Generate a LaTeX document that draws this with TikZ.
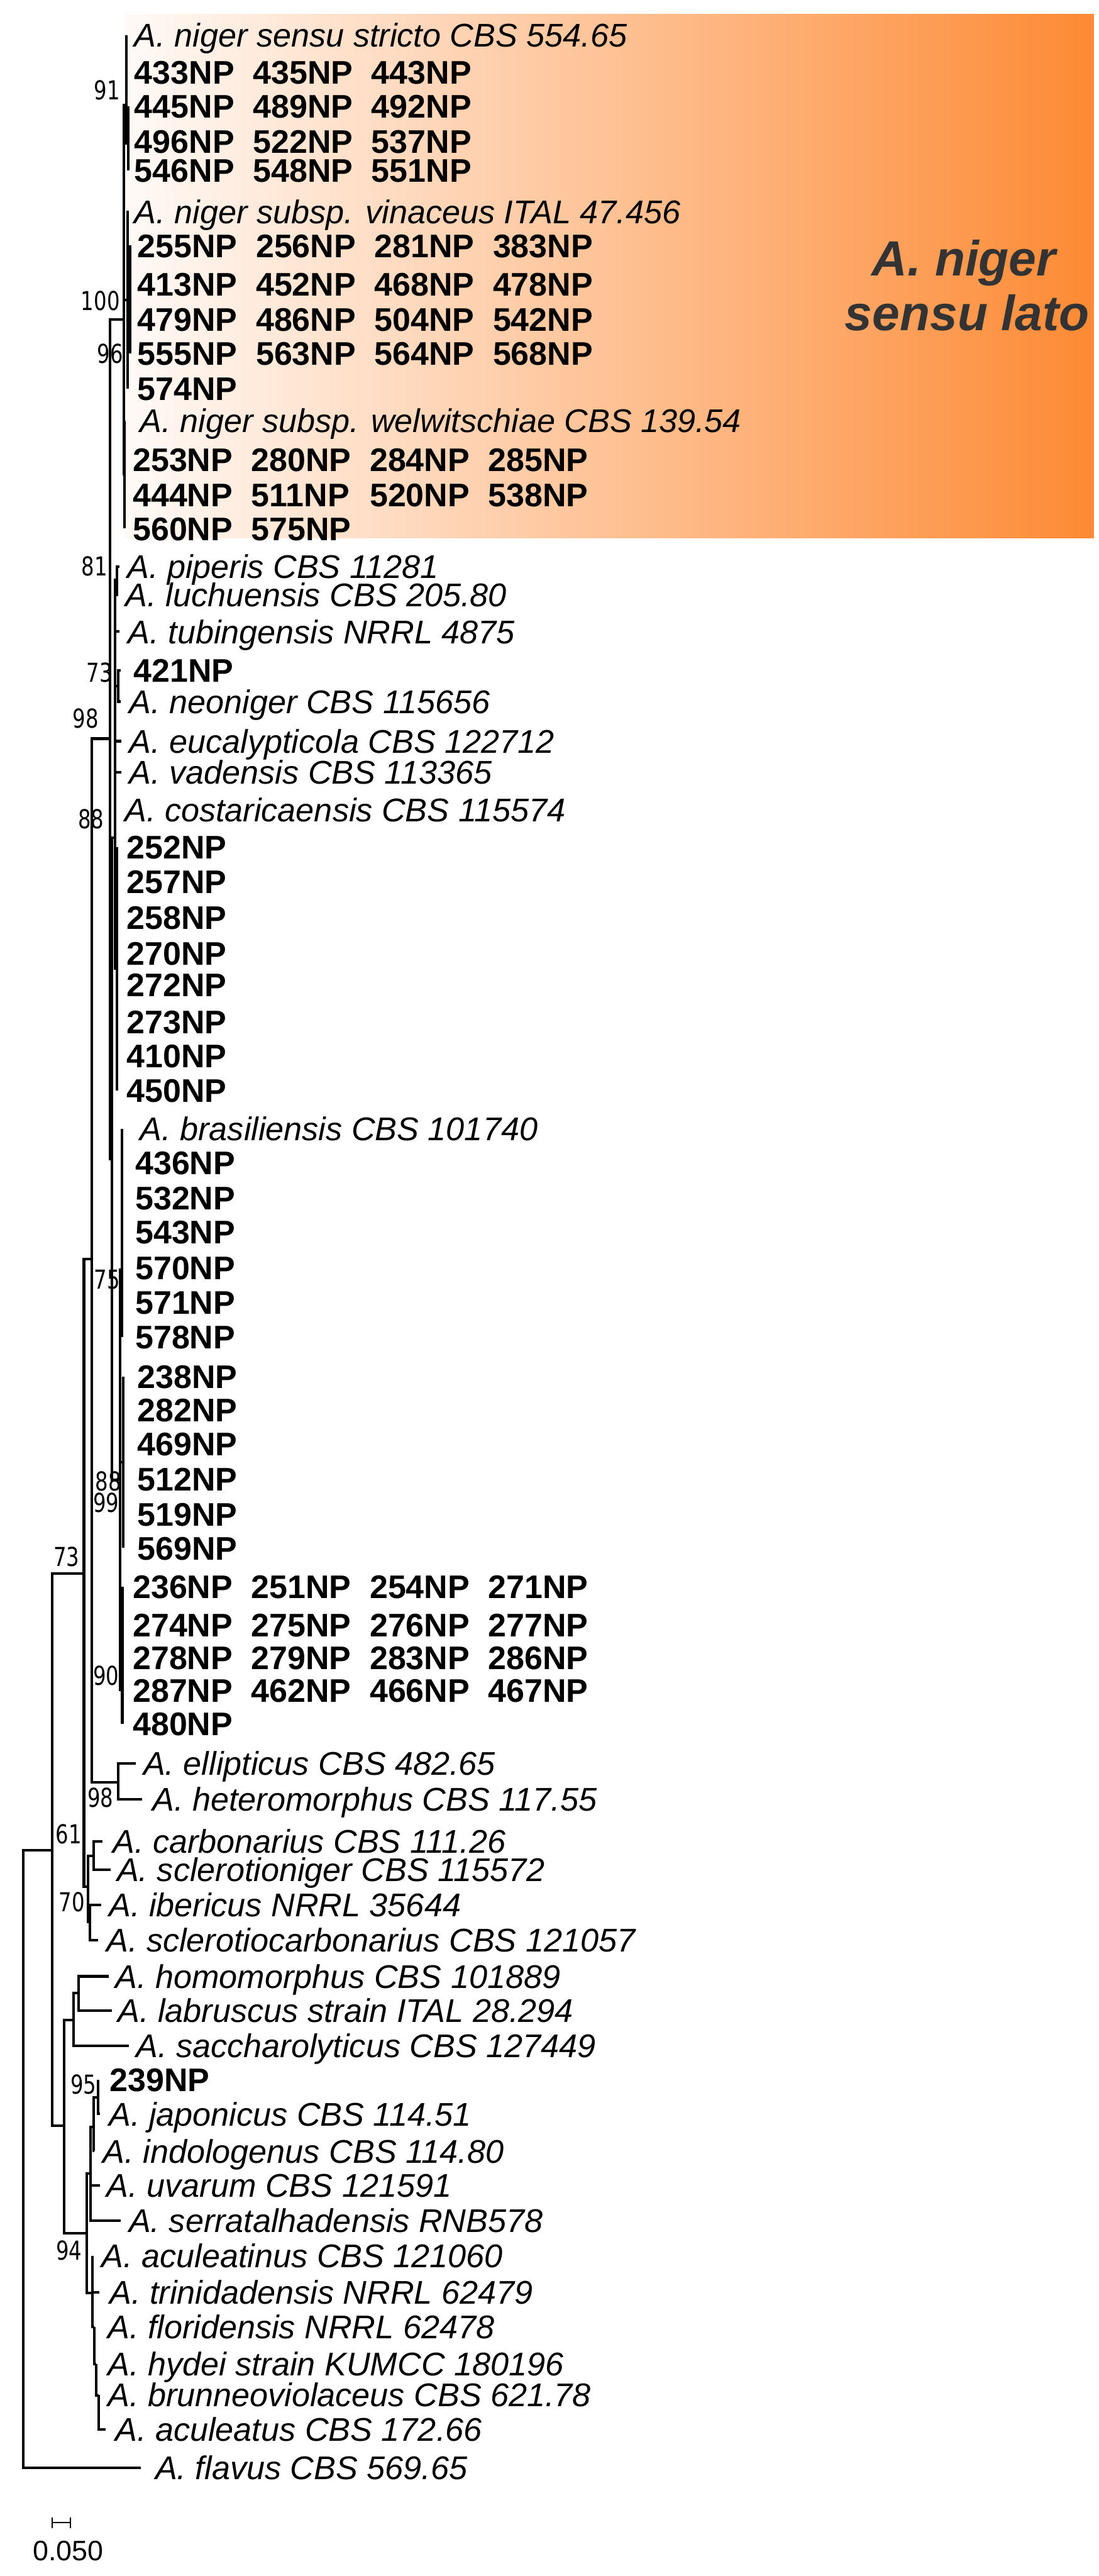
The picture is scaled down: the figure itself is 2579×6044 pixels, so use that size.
\documentclass[tikz,border=0pt]{standalone}
\usepackage{fontspec}
\setmainfont{Liberation Sans}
\newfontfamily\bootfont[FakeStretch=0.78]{DejaVu Sans}
\usetikzlibrary{positioning}
\definecolor{cladedark}{RGB}{253,138,52}
\definecolor{cladelight}{RGB}{255,250,247}
\definecolor{cladetext}{RGB}{51,51,51}
\newcommand\isocol[1]{\makebox[2.78cm][l]{#1}}

\begin{document}
\begin{tikzpicture}[x=0.01cm, y=-0.01cm,
  branch/.style={line width=0.06cm},
  taxon/.style={anchor=base west, inner sep=0pt, yshift=-0.275cm,
    font=\fontsize{21.9}{26}\selectfont\itshape},
  isolate/.style={anchor=base west, inner sep=0pt, yshift=-0.275cm,
    font=\fontsize{21.8}{26}\selectfont\bfseries},
  boot/.style={anchor=base east, inner sep=0pt, yshift=-0.225cm,
    font=\fontsize{17.4}{20}\selectfont\bootfont},
  lato/.style={anchor=base, inner sep=0pt, text=cladetext,
    font=\fontsize{33}{38}\selectfont\bfseries\itshape}]
  \useasboundingbox (0,0) rectangle (2579,6044);

  % A. niger sensu lato highlight
  \shade[left color=cladelight, right color=cladedark] (292,33) rectangle (2567,1262);
  \node[lato] (latoA) at (2262,647) {A. niger};
  \node[lato] (latoB) at (2270,775) {sensu lato};

  % Internal nodes
  \coordinate (r0) at (55,5066);
  \coordinate (n123) at (123,4341);
  \coordinate (n197) at (197,3692);
  \coordinate (n150) at (150,4988);
  \coordinate (n217) at (216,2954);
  \coordinate (n207) at (207,4427);
  \coordinate (n220) at (220,4354);
  \coordinate (n70) at (211,4510);
  \coordinate (nA) at (258,1733);
  \coordinate (n98b) at (278,4182);
  \coordinate (n100) at (290,749);
  \coordinate (n91) at (297,246);
  \coordinate (n91b) at (301,336);
  \coordinate (n96) at (300,704);
  \coordinate (n96b) at (305,692);
  \coordinate (nW) at (292,1113);
  \coordinate (nB) at (262,2720);
  \coordinate (n88) at (270,1966);
  \coordinate (n81) at (275,1360);
  \coordinate (n73) at (278,1610);
  \coordinate (n88b) at (275,2273);
  \coordinate (n99) at (282,3472);
  \coordinate (n75) at (286,2979);
  \coordinate (n75b) at (289,3431);
  \coordinate (n90) at (287,3965);
  \coordinate (n172) at (172,4740);
  \coordinate (n185) at (185,4676);
  \coordinate (n203) at (203,5240);
  \coordinate (n213) at (213,5100);
  \coordinate (nJI) at (220,4990);
  \coordinate (n95) at (230,4921);
  \coordinate (n217b) at (217,5380);
  \coordinate (nFH) at (222,5459);
  \coordinate (nHB) at (226,5546);
  \coordinate (nBA) at (231,5620);

  % Branches between internal nodes
  \foreach \a/\b in {r0/n123, n123/n197, n123/n150, n197/n217, n197/n207,
      n207/n220, n207/n70, n217/nA, n217/n98b, nA/n100, nA/nB,
      n100/n91, n91/n91b, n100/n96, n96/n96b, n100/nW,
      nB/n88, n88/n81, n88/n73, n88/n88b, nB/n99, n99/n75, n99/n75b, n99/n90,
      n150/n172, n172/n185, n150/n203, n203/n213, n213/nJI, nJI/n95,
      n203/n217b, n217b/nFH, nFH/nHB, nHB/nBA}
    \draw[branch] (\a) |- (\b);

  % Reference species
  \foreach \id/\up/\tp/\tx/\ty/\lab in {
      nigerss/n91/297/315/83/A. niger sensu stricto CBS 554.65,
      vinaceus/n96/303/315/497/A. niger subsp. vinaceus ITAL 47.456,
      welw/nW/292/328/987/A. niger subsp. welwitschiae CBS 139.54,
      piperis/n81/280/298/1329/A. piperis CBS 11281,
      luchuensis/n81/278/294/1396/A. luchuensis CBS 205.80,
      tubingensis/n88/280/300/1482/A. tubingensis NRRL 4875,
      neoniger/n73/284/303/1646/A. neoniger CBS 115656,
      eucalypticola/n88/285/303/1739/A. eucalypticola CBS 122712,
      vadensis/n88/285/303/1812/A. vadensis CBS 113365,
      costaricaensis/n88/270/292/1901/A. costaricaensis CBS 115574,
      brasiliensis/n75/286/328/2649/A. brasiliensis CBS 101740,
      ellipticus/n98b/318/336/4137/A. ellipticus CBS 482.65,
      heteromorphus/n98b/333/357/4222/A. heteromorphus CBS 117.55,
      carbonarius/n220/240/264/4320/A. carbonarius CBS 111.26,
      sclerotioniger/n220/260/274/4387/A. sclerotioniger CBS 115572,
      ibericus/n70/237/255/4469/A. ibericus NRRL 35644,
      sclerotiocarbonarius/n70/230/249/4552/A. sclerotiocarbonarius CBS 121057,
      homomorphus/n185/255/270/4637/A. homomorphus CBS 101889,
      labruscus/n185/263/276/4717/A. labruscus strain ITAL 28.294,
      saccharolyticus/n172/303/319/4800/A. saccharolyticus CBS 127449,
      japonicus/n95/235/255/4960/A. japonicus CBS 114.51,
      indologenus/nJI/222/241/5047/A. indologenus CBS 114.80,
      uvarum/n213/235/250/5128/A. uvarum CBS 121591,
      serratalhadensis/n213/283/302/5210/A. serratalhadensis RNB578,
      aculeatinus/n217b/217/238/5293/A. aculeatinus CBS 121060,
      trinidadensis/n217b/233/257/5378/A. trinidadensis NRRL 62479,
      floridensis/nFH/222/252/5459/A. floridensis NRRL 62478,
      hydei/nHB/226/252/5546/A. hydei strain KUMCC 180196,
      brunneoviolaceus/nBA/231/252/5619/A. brunneoviolaceus CBS 621.78,
      aculeatus/nBA/248/270/5700/A. aculeatus CBS 172.66,
      flavus/r0/330/364/5790/A. flavus CBS 569.65}
  {
    \coordinate (t-\id) at (\tp,\ty);
    \node[taxon] (\id) at (\tx,\ty) {\lab};
    \draw[branch] (\up) |- (t-\id);
  }

  % Isolates
  \foreach \id/\up/\tp/\tx/\ty/\lab in {
      r433/n91/297/315/170/{\isocol{433NP}\isocol{435NP}443NP},
      r445/n91b/301/315/249/{\isocol{445NP}\isocol{489NP}492NP},
      r496/n91b/301/315/332/{\isocol{496NP}\isocol{522NP}537NP},
      r546/n91b/301/315/400/{\isocol{546NP}\isocol{548NP}551NP},
      r255/n96b/305/322/576/{\isocol{255NP}\isocol{256NP}\isocol{281NP}383NP},
      r413/n96b/305/322/666/{\isocol{413NP}\isocol{452NP}\isocol{468NP}478NP},
      r479/n96b/305/322/750/{\isocol{479NP}\isocol{486NP}\isocol{504NP}542NP},
      r555/n96b/305/322/829/{\isocol{555NP}\isocol{563NP}\isocol{564NP}568NP},
      r574/n96/300/322/912/574NP,
      r253/nW/292/311/1078/{\isocol{253NP}\isocol{280NP}\isocol{284NP}285NP},
      r444/nW/292/311/1161/{\isocol{444NP}\isocol{511NP}\isocol{520NP}538NP},
      r560/nW/292/311/1240/{\isocol{560NP}575NP},
      i421/n73/284/313/1573/421NP,
      i252/n88b/275/297/1988/252NP,
      i257/n88b/275/297/2069/257NP,
      i258/n88b/275/297/2152/258NP,
      i270/n88b/275/297/2237/270NP,
      i272/n88b/275/297/2311/272NP,
      i273/n88b/275/297/2398/273NP,
      i410/n88b/275/297/2477/410NP,
      i450/n88b/275/297/2558/450NP,
      i436/n75/286/317/2728/436NP,
      i532/n75/286/317/2811/532NP,
      i543/n75/286/317/2891/543NP,
      i570/n75/286/317/2975/570NP,
      i571/n75/286/317/3056/571NP,
      i578/n75/286/317/3137/578NP,
      i238/n75b/289/322/3230/238NP,
      i282/n75b/289/322/3308/282NP,
      i469/n75b/289/322/3387/469NP,
      i512/n75b/289/322/3470/512NP,
      i519/n75b/289/322/3553/519NP,
      i569/n75b/289/322/3632/569NP,
      r236/n90/287/311/3723/{\isocol{236NP}\isocol{251NP}\isocol{254NP}271NP},
      r274/n90/287/311/3812/{\isocol{274NP}\isocol{275NP}\isocol{276NP}277NP},
      r278/n90/287/311/3889/{\isocol{278NP}\isocol{279NP}\isocol{283NP}286NP},
      r287/n90/287/311/3966/{\isocol{287NP}\isocol{462NP}\isocol{466NP}467NP},
      r480/n90/287/311/4044/480NP,
      i239/n95/230/257/4880/239NP}
  {
    \coordinate (t-\id) at (\tp,\ty);
    \node[isolate] (\id) at (\tx,\ty) {\lab};
    \draw[branch] (\up) |- (t-\id);
  }

  % Bootstrap values
  \foreach \id/\bx/\by/\val in {b91/282/211/91, b100/282/705/100, b96/290/829/96,
      b81/253/1329/81, b73a/265/1577/73, b98a/232/1686/98, b88a/245/1922/88,
      b75/282/3002/75, b88b/285/3476/88, b99/280/3526/99, b73b/187/3653/73,
      b90/280/3932/90, b98b/267/4217/98, b61/192/4303/61, b70/200/4462/70,
      b95/227/4890/95, b94/193/5280/94}
    \node[boot] (\id) at (\bx,\by) {\val};

  % Scale bar
  \coordinate (sbL) at (123,5919);
  \coordinate (sbR) at (165,5919);
  \draw[line width=0.03cm] (sbL) -- (sbR);
  \draw[line width=0.03cm] ([yshift=0.13cm]sbL) -- ([yshift=-0.13cm]sbL);
  \draw[line width=0.03cm] ([yshift=0.13cm]sbR) -- ([yshift=-0.13cm]sbR);
  \node[anchor=base, inner sep=0pt, font=\fontsize{18.8}{22}\selectfont] (sblabel) at (160,6008) {0.050};
\end{tikzpicture}
\end{document}
